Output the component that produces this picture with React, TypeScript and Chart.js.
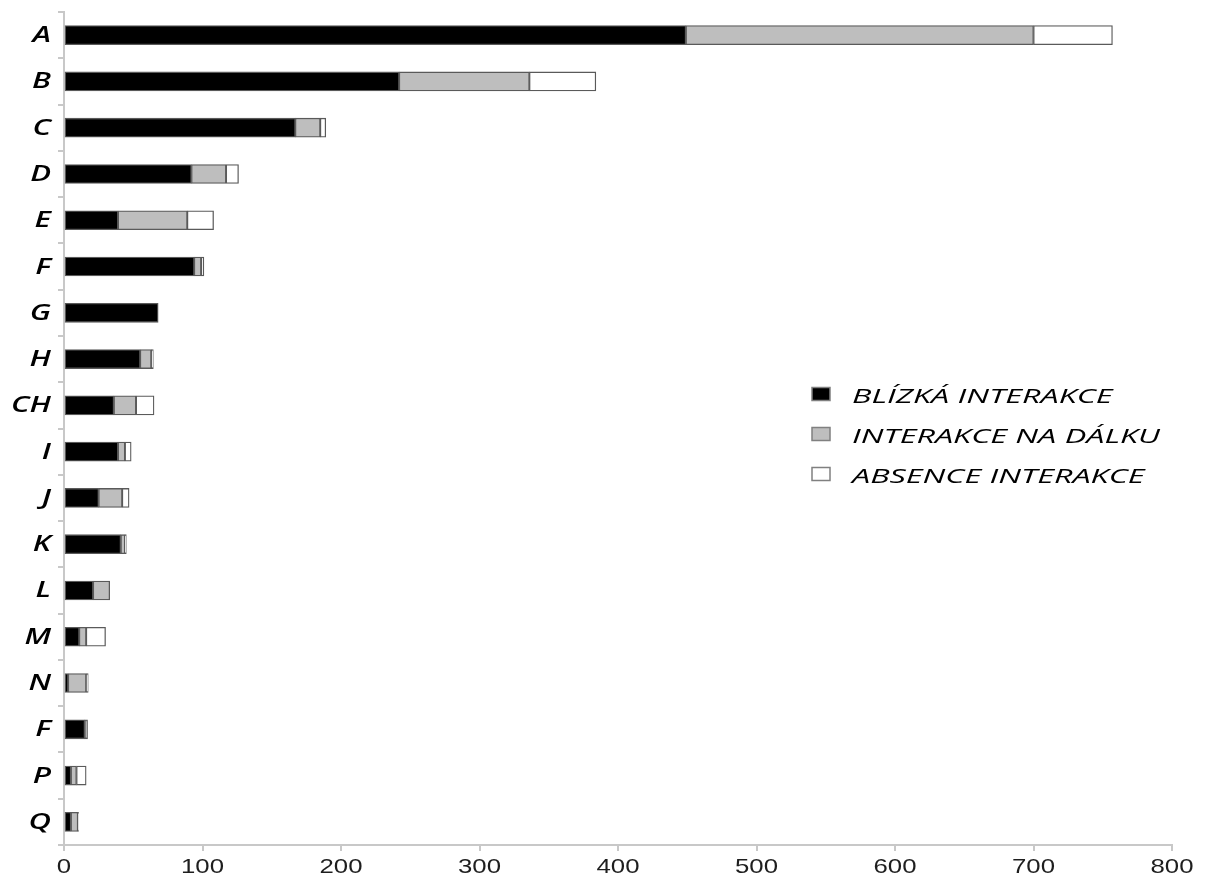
import React, { useEffect, useRef } from "react";
import { Chart, registerables } from "chart.js";

Chart.register(...registerables);

const categories = ["A", "B", "C", "D", "E", "F", "G", "H", "CH", "I", "J", "K", "L", "M", "N", "F", "P", "Q"];
const closeInteraction = [449, 242, 167, 92, 39, 94, 68, 55, 36, 39, 25, 41, 21, 11, 3, 15, 5, 5];
const remoteInteraction = [251, 94, 18, 25, 50, 5, 0, 8, 16, 5, 17, 3, 12, 5, 13, 2, 4, 5];
const absentInteraction = [57, 48, 4, 9, 19, 2, 0, 1.5, 13, 4.5, 5, 1, 0, 14, 1.5, 0, 7, 0.5];
const seriesNames = ["BLÍZKÁ INTERAKCE", "INTERAKCE NA DÁLKU", "ABSENCE INTERAKCE"];
const seriesColors = ["#000000", "#bebebe", "#ffffff"];
const xTicks = [0, 100, 200, 300, 400, 500, 600, 700, 800];

const W = 1208;
const H = 877;

// Text in the source image is stretched horizontally; draw it with a horizontal scale.
const textPlugin = {
  id: "stretchedText",
  afterDraw(chart: any) {
    const ctx: CanvasRenderingContext2D = chart.ctx;
    const xs = chart.scales.x;
    const ys = chart.scales.y;

    // y category labels
    ctx.save();
    ctx.font = "italic 600 21px 'Open Sans', sans-serif";
    const yScale = 40 / ctx.measureText("CH").width;
    ctx.fillStyle = "#000";
    ctx.textAlign = "right";
    ctx.textBaseline = "middle";
    categories.forEach((lab, i) => {
      const y = ys.getPixelForValue(i);
      ctx.save();
      ctx.translate(51, y + 1);
      ctx.scale(yScale, 1);
      ctx.fillText(lab, 0, 0);
      ctx.restore();
    });
    ctx.restore();

    // x tick labels
    ctx.save();
    ctx.font = "21px 'Liberation Sans', Arial, sans-serif";
    const xScaleF = 43 / ctx.measureText("100").width;
    ctx.fillStyle = "#1e1e1e";
    ctx.textAlign = "center";
    ctx.textBaseline = "middle";
    xTicks.forEach((v) => {
      const x = xs.getPixelForValue(v);
      ctx.save();
      ctx.translate(x, 867);
      ctx.scale(xScaleF, 1);
      ctx.fillText(String(v), 0, 0);
      ctx.restore();
    });
    ctx.restore();

    // legend
    const rows = [396, 436, 476];
    ctx.save();
    ctx.font = "italic 500 20px 'Open Sans', sans-serif";
    const lScale = 308 / ctx.measureText(seriesNames[1]).width;
    seriesNames.forEach((name, i) => {
      const cy = rows[i];
      ctx.fillStyle = seriesColors[i];
      ctx.fillRect(812, cy - 8.5, 18, 13);
      ctx.strokeStyle = "#808080";
      ctx.lineWidth = 1.5;
      ctx.strokeRect(812, cy - 8.5, 18, 13);
      ctx.fillStyle = "#000";
      ctx.textAlign = "left";
      ctx.textBaseline = "middle";
      ctx.save();
      ctx.translate(852, cy + 1);
      ctx.scale(lScale, 1);
      ctx.fillText(name, 0, 0);
      ctx.restore();
    });
    ctx.restore();
  },
};

export default function App() {
  const ref = useRef<HTMLCanvasElement | null>(null);

  useEffect(() => {
    if (!ref.current) return;
    const values = [closeInteraction, remoteInteraction, absentInteraction];
    const chart = new Chart(ref.current, {
      type: "bar",
      data: {
        labels: categories,
        datasets: seriesNames.map((name, i) => ({
          label: name,
          data: values[i].map((v) => (v === 0 ? null : v)),
          backgroundColor: seriesColors[i],
          borderColor: "#5a5a5a",
          borderWidth: 1.3,
          borderSkipped: false,
          barThickness: 19,
        })),
      },
      options: {
        indexAxis: "y",
        animation: false,
        responsive: false,
        maintainAspectRatio: false,
        layout: { padding: { top: 12, right: 36, left: 0, bottom: 0 } },
        plugins: { legend: { display: false }, tooltip: { enabled: false } },
        scales: {
          x: {
            stacked: true,
            min: 0,
            max: 800,
            afterBuildTicks: (axis: any) => {
              axis.ticks = xTicks.map((v) => ({ value: v }));
            },
            afterFit: (axis: any) => {
              axis.height = 32;
            },
            grid: {
              drawOnChartArea: false,
              drawTicks: true,
              tickLength: 6,
              color: "#c8c8c8",
              lineWidth: 2,
            },
            border: { display: true, color: "#c8c8c8", width: 2 },
            ticks: { display: false },
          },
          y: {
            stacked: true,
            afterFit: (axis: any) => {
              axis.width = 64;
            },
            grid: {
              drawOnChartArea: false,
              drawTicks: true,
              tickLength: 6,
              color: "#c8c8c8",
              lineWidth: 2,
            },
            border: { display: true, color: "#c8c8c8", width: 2 },
            ticks: { display: false },
          },
        },
      },
      plugins: [textPlugin],
    });
    return () => chart.destroy();
  }, []);

  return (
    <div style={{ position: "absolute", left: 0, top: 0, width: W, height: H, background: "#fff", overflow: "hidden" }}>
      <canvas ref={ref} width={W} height={H} style={{ display: "block" }} />
    </div>
  );
}
